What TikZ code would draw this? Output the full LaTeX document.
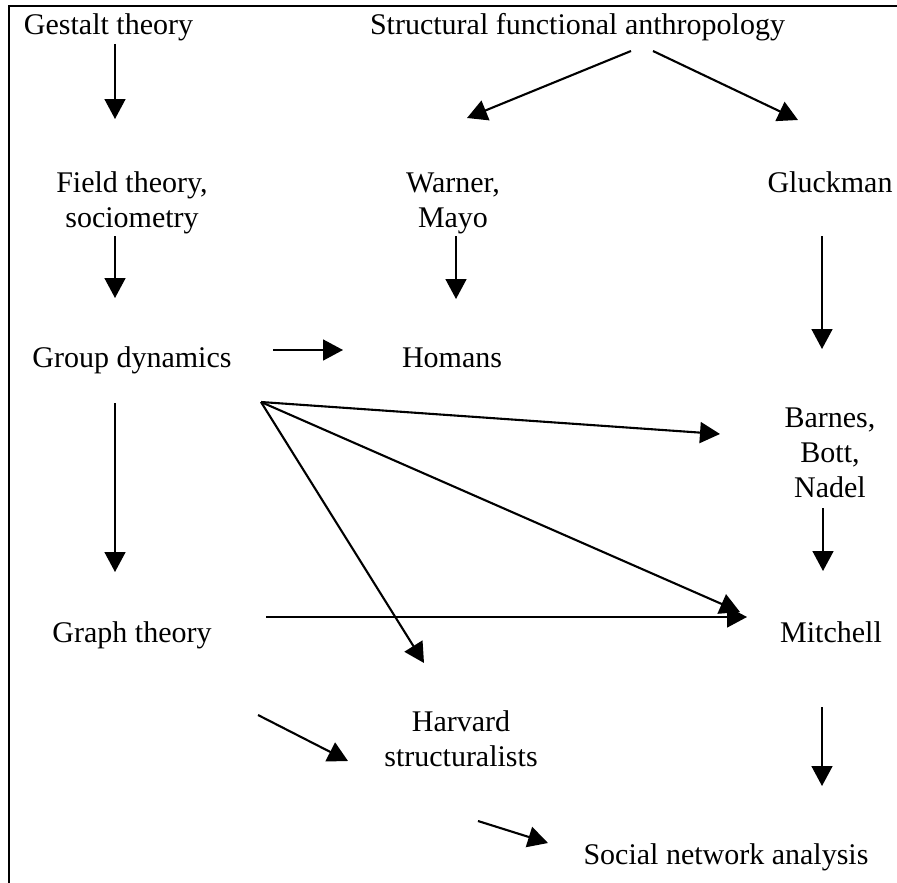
\documentclass[tikz,border=0pt]{standalone}
\usepackage{fontspec}
\setmainfont{Liberation Serif}
\usetikzlibrary{arrows.meta}
\tikzset{
  lbl/.style={anchor=base, inner sep=0pt, align=center, font=\fontsize{30}{35}\selectfont},
  conn/.style={line width=1.6pt, -{Triangle[length=20pt,width=21pt]}},
  slant/.style={conn, line width=2.1pt},
  frame/.style={line width=1.5pt}
}
\begin{document}
\begin{tikzpicture}[x=1pt,y=-1pt]
\useasboundingbox (0,0) rectangle (897,883);
% frame (top and left edges)
\coordinate (ftr) at (897,6);
\coordinate (ftl) at (9,6);
\coordinate (fbl) at (9,883);
\draw[frame] (ftr) -- (ftl) -- (fbl);
% labels (base anchor = baseline of the last line)
\node[lbl] (gestalt) at (108.5,35) {Gestalt theory};
\node[lbl] (sfa) at (577.5,35) {Structural functional anthropology};
\node[lbl] (field) at (132,227) {Field theory,\\sociometry};
\node[lbl] (warner) at (453,227) {Warner,\\Mayo};
\node[lbl] (gluckman) at (830,192) {Gluckman};
\node[lbl] (group) at (132,367) {Group dynamics};
\node[lbl] (homans) at (452,367) {Homans};
\node[lbl] (barnes) at (830,497) {Barnes,\\Bott,\\Nadel};
\node[lbl] (graph) at (132,642) {Graph theory};
\node[lbl] (mitchell) at (831,642) {Mitchell};
\node[lbl] (harvard) at (461,766) {Harvard\\structuralists};
\node[lbl] (sna) at (726,864) {Social network analysis};
% connector end points
\coordinate (gestaltS) at (115,44);   \coordinate (fieldN) at (115,119);
\coordinate (sfaL) at (631,51);       \coordinate (warnerN) at (467,118);
\coordinate (sfaR) at (653,51);       \coordinate (gluckmanN) at (798,120);
\coordinate (fieldS) at (115,236);    \coordinate (groupN) at (115,298);
\coordinate (warnerS) at (456,236);   \coordinate (homansN) at (456,299);
\coordinate (gluckmanS) at (822,236); \coordinate (barnesN) at (822,349);
\coordinate (groupE) at (273,350);    \coordinate (homansW) at (343,350);
\coordinate (groupS) at (115,403);    \coordinate (graphN) at (115,572);
\coordinate (groupSE) at (261,402);
\coordinate (barnesW) at (720,434);
\coordinate (mitchellNW) at (740,612);
\coordinate (harvardN) at (424,663);
\coordinate (barnesS) at (823,508);   \coordinate (mitchellN) at (823,571);
\coordinate (graphE) at (266,617);    \coordinate (mitchellW) at (747,617);
\coordinate (graphSE) at (258,715);   \coordinate (harvardW) at (348,761);
\coordinate (mitchellS) at (822,707); \coordinate (snaN) at (822,786);
\coordinate (harvardSE) at (478,821); \coordinate (snaW) at (548,843);
% connectors
\draw[conn] (gestaltS) -- (fieldN);
\draw[slant] (sfaL) -- (warnerN);
\draw[slant] (sfaR) -- (gluckmanN);
\draw[conn] (fieldS) -- (groupN);
\draw[conn] (warnerS) -- (homansN);
\draw[conn] (gluckmanS) -- (barnesN);
\draw[conn] (groupE) -- (homansW);
\draw[conn] (groupS) -- (graphN);
\draw[slant] (groupSE) -- (barnesW);
\draw[slant] (groupSE) -- (mitchellNW);
\draw[slant] (groupSE) -- (harvardN);
\draw[conn] (barnesS) -- (mitchellN);
\draw[conn] (graphE) -- (mitchellW);
\draw[slant] (graphSE) -- (harvardW);
\draw[conn] (mitchellS) -- (snaN);
\draw[slant] (harvardSE) -- (snaW);
\end{tikzpicture}
\end{document}
